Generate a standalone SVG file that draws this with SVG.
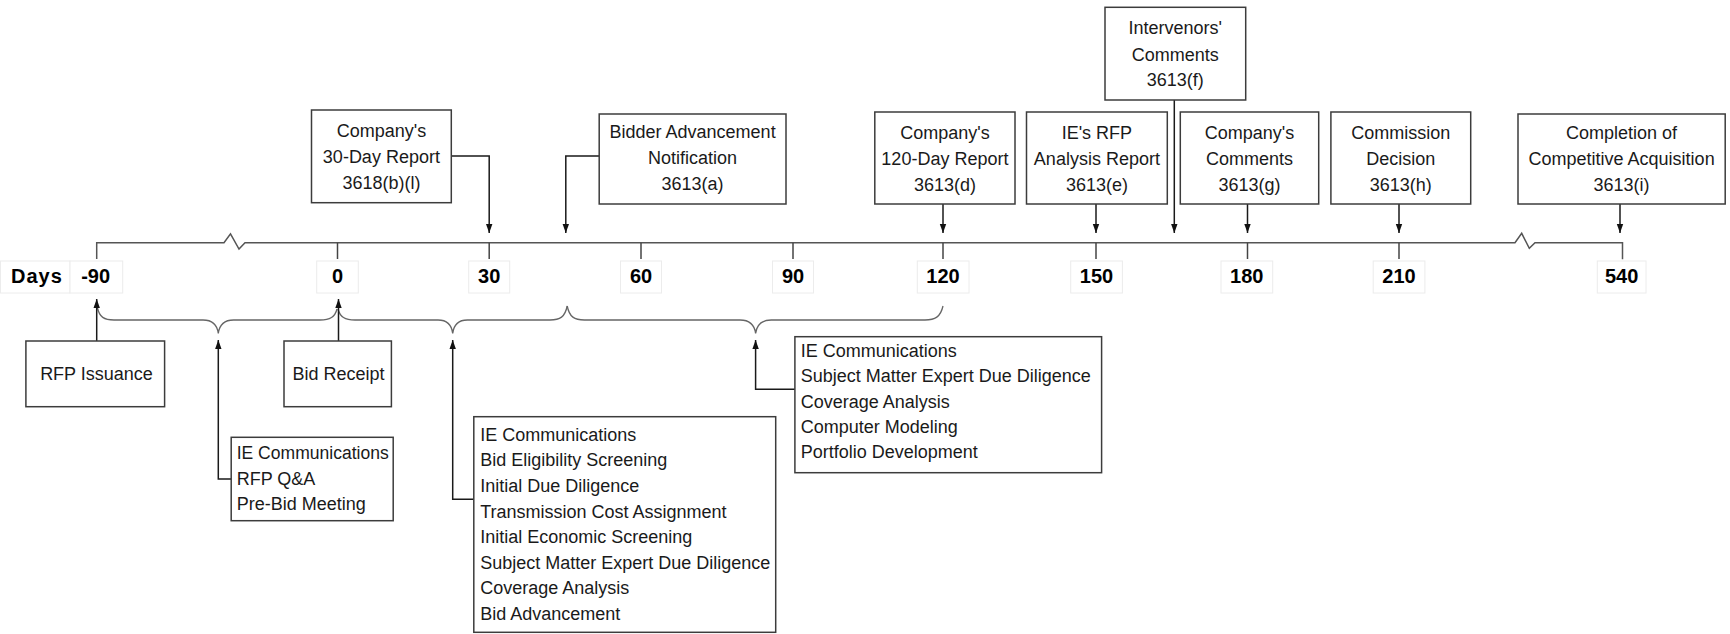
<svg xmlns="http://www.w3.org/2000/svg" width="1730" height="634" viewBox="0 0 1730 634">
<defs>
<marker id="ah" markerWidth="10" markerHeight="8" refX="9" refY="4" orient="auto" markerUnits="userSpaceOnUse">
<path d="M0,0.8 L9,4 L0,7.2 Z" fill="#111"/>
</marker>
<style>
.box{fill:#fff;stroke:#3c3c3c;stroke-width:1.5}
.lbox{fill:#fff;stroke:#ececec;stroke-width:1}
.t{font-family:"Liberation Sans",Arial,sans-serif;font-size:18px;fill:#1a1a1a}
.c{text-anchor:middle}
.n{font-family:"Liberation Sans",Arial,sans-serif;font-size:20px;font-weight:bold;fill:#000;text-anchor:middle}
.con{fill:none;stroke:#1a1a1a;stroke-width:1.5}
.axis{fill:none;stroke:#555;stroke-width:1.5}
.tick{stroke:#444;stroke-width:1.5}
.brace{fill:none;stroke:#666;stroke-width:1.3}
</style>
</defs>
<rect width="1730" height="634" fill="#fff"/>

<g id="axis">
<path class="axis" d="M96.7,259 L96.7,242.7 L224,242.7 L230.5,233.8 L239,249 L245,242.7 L1515,242.7 L1521.7,233.3 L1529.3,248.3 L1535,242.7 L1622.5,242.7 L1622.5,259.3"/>
<line class="tick" x1="337.5" y1="242.7" x2="337.5" y2="259"/>
<line class="tick" x1="489.2" y1="242.7" x2="489.2" y2="259"/>
<line class="tick" x1="641" y1="242.7" x2="641" y2="259"/>
<line class="tick" x1="793" y1="242.7" x2="793" y2="259"/>
<line class="tick" x1="943" y1="242.7" x2="943" y2="259"/>
<line class="tick" x1="1096" y1="242.7" x2="1096" y2="259"/>
<line class="tick" x1="1247.5" y1="242.7" x2="1247.5" y2="259"/>
<line class="tick" x1="1399" y1="242.7" x2="1399" y2="259"/>
</g>

<g id="labels">
<rect class="lbox" x="0.5" y="261" width="69.5" height="32"/>
<rect class="lbox" x="70" y="261" width="52.7" height="32"/>
<rect class="lbox" x="316.7" y="261" width="41.6" height="32"/>
<rect class="lbox" x="468.7" y="261" width="41" height="32"/>
<rect class="lbox" x="620.5" y="261" width="41" height="32"/>
<rect class="lbox" x="772.5" y="261" width="41" height="32"/>
<rect class="lbox" x="917.3" y="261" width="51.7" height="32"/>
<rect class="lbox" x="1070.7" y="261" width="51.7" height="32"/>
<rect class="lbox" x="1221" y="261" width="51.7" height="32"/>
<rect class="lbox" x="1373.2" y="261" width="51.7" height="32"/>
<rect class="lbox" x="1597.3" y="261" width="48.7" height="32"/>
<text class="n" x="11" y="282.5" style="text-anchor:start;letter-spacing:1px">Days</text>
<text class="n" x="95.6" y="282.5">-90</text>
<text class="n" x="337.5" y="282.5">0</text>
<text class="n" x="489.2" y="282.5">30</text>
<text class="n" x="641" y="282.5">60</text>
<text class="n" x="793" y="282.5">90</text>
<text class="n" x="943" y="282.5">120</text>
<text class="n" x="1096.5" y="282.5">150</text>
<text class="n" x="1246.8" y="282.5">180</text>
<text class="n" x="1399" y="282.5">210</text>
<text class="n" x="1621.7" y="282.5">540</text>
</g>

<g id="braces">
<path class="brace" d="M97.5,308 C99.5,317 104,320 114,320 L203,320 C212,320 217,324 218.3,333.3 C219.6,324 224.6,320 233.6,320 L320,320 C330,320 335,317 337,309"/>
<path class="brace" d="M338,309 C340,317 345,320 355,320 L438,320 C447,320 451.5,324 452.7,333.3 C453.9,324 458.4,320 467.4,320 L550,320 C560,320 565,317 567.2,306"/>
<path class="brace" d="M567.2,306 C569.4,317 574.4,320 584.4,320 L740,320 C749,320 754.3,324 755.6,333.3 C756.9,324 762.2,320 771.2,320 L925,320 C935,320 940.5,317 943,306"/>
</g>

<g id="connectors">
<path class="con" d="M451.3,156 L489.2,156 L489.2,233" marker-end="url(#ah)"/>
<path class="con" d="M599.2,156 L565.8,156 L565.8,233" marker-end="url(#ah)"/>
<path class="con" d="M943,204 L943,233" marker-end="url(#ah)"/>
<path class="con" d="M1096,204 L1096,233" marker-end="url(#ah)"/>
<path class="con" d="M1174.3,100 L1174.3,233" marker-end="url(#ah)"/>
<path class="con" d="M1247.5,204 L1247.5,233" marker-end="url(#ah)"/>
<path class="con" d="M1399,204 L1399,233" marker-end="url(#ah)"/>
<path class="con" d="M1620,204 L1620,233" marker-end="url(#ah)"/>
<path class="con" d="M96.7,341 L96.7,299" marker-end="url(#ah)"/>
<path class="con" d="M338.5,341 L338.5,299" marker-end="url(#ah)"/>
<path class="con" d="M231.2,479 L218.3,479 L218.3,340" marker-end="url(#ah)"/>
<path class="con" d="M473.8,499.3 L452.7,499.3 L452.7,340" marker-end="url(#ah)"/>
<path class="con" d="M794.9,389.3 L755.6,389.3 L755.6,340" marker-end="url(#ah)"/>
</g>

<g id="n30day">
<rect class="box" x="311.5" y="110" width="139.8" height="92.7"/>
<text class="t c" x="381.4" y="137">Company's</text>
<text class="t c" x="381.4" y="163">30-Day Report</text>
<text class="t c" x="381.4" y="189">3618(b)(l)</text>
</g>
<g id="nbidder">
<rect class="box" x="599.2" y="114" width="186.8" height="90"/>
<text class="t c" x="692.6" y="138">Bidder Advancement</text>
<text class="t c" x="692.6" y="164">Notification</text>
<text class="t c" x="692.6" y="190">3613(a)</text>
</g>
<g id="n120day">
<rect class="box" x="874.8" y="112" width="140.2" height="92"/>
<text class="t c" x="944.9" y="138.5">Company's</text>
<text class="t c" x="944.9" y="164.5">120-Day Report</text>
<text class="t c" x="944.9" y="190.5">3613(d)</text>
</g>
<g id="nierfp">
<rect class="box" x="1026.5" y="112" width="140.8" height="92"/>
<text class="t c" x="1096.9" y="138.5">IE's RFP</text>
<text class="t c" x="1096.9" y="164.5">Analysis Report</text>
<text class="t c" x="1096.9" y="190.5">3613(e)</text>
</g>
<g id="nintervenors">
<rect class="box" x="1105" y="7.3" width="140.7" height="92.7"/>
<text class="t c" x="1175.3" y="34.3">Intervenors'</text>
<text class="t c" x="1175.3" y="60.5">Comments</text>
<text class="t c" x="1175.3" y="86">3613(f)</text>
</g>
<g id="ncompanycomments">
<rect class="box" x="1180.3" y="112" width="138.4" height="92"/>
<text class="t c" x="1249.5" y="138.5">Company's</text>
<text class="t c" x="1249.5" y="164.5">Comments</text>
<text class="t c" x="1249.5" y="190.5">3613(g)</text>
</g>
<g id="ncommission">
<rect class="box" x="1330.9" y="112" width="139.8" height="92"/>
<text class="t c" x="1400.8" y="138.5">Commission</text>
<text class="t c" x="1400.8" y="164.5">Decision</text>
<text class="t c" x="1400.8" y="190.5">3613(h)</text>
</g>
<g id="ncompletion">
<rect class="box" x="1518" y="114" width="207.2" height="90"/>
<text class="t c" x="1621.6" y="138.5">Completion of</text>
<text class="t c" x="1621.6" y="164.5">Competitive Acquisition</text>
<text class="t c" x="1621.6" y="190.5">3613(i)</text>
</g>

<g id="nrfpissuance">
<rect class="box" x="25.9" y="341" width="138.7" height="65.7"/>
<text class="t c" x="96.5" y="380">RFP Issuance</text>
</g>
<g id="nbidreceipt">
<rect class="box" x="284" y="341" width="107.4" height="65.7"/>
<text class="t c" x="338.5" y="380">Bid Receipt</text>
</g>
<g id="nprebid">
<rect class="box" x="231.2" y="437.3" width="162" height="83.4"/>
<text class="t" x="236.7" y="459" textLength="152" lengthAdjust="spacingAndGlyphs">IE Communications</text>
<text class="t" x="236.7" y="484.5">RFP Q&amp;A</text>
<text class="t" x="236.7" y="510">Pre-Bid Meeting</text>
</g>
<g id="nscreening">
<rect class="box" x="473.8" y="416.7" width="301.9" height="215.6"/>
<text class="t" x="480.2" y="440.7">IE Communications</text>
<text class="t" x="480.2" y="466.3">Bid Eligibility Screening</text>
<text class="t" x="480.2" y="491.9">Initial Due Diligence</text>
<text class="t" x="480.2" y="517.5">Transmission Cost Assignment</text>
<text class="t" x="480.2" y="543.1">Initial Economic Screening</text>
<text class="t" x="480.2" y="568.7">Subject Matter Expert Due Diligence</text>
<text class="t" x="480.2" y="594.3">Coverage Analysis</text>
<text class="t" x="480.2" y="619.9">Bid Advancement</text>
</g>
<g id="nportfolio">
<rect class="box" x="794.9" y="336.7" width="306.7" height="136"/>
<text class="t" x="800.7" y="356.7">IE Communications</text>
<text class="t" x="800.7" y="382.1">Subject Matter Expert Due Diligence</text>
<text class="t" x="800.7" y="407.5">Coverage Analysis</text>
<text class="t" x="800.7" y="432.9">Computer Modeling</text>
<text class="t" x="800.7" y="458.3">Portfolio Development</text>
</g>
</svg>
